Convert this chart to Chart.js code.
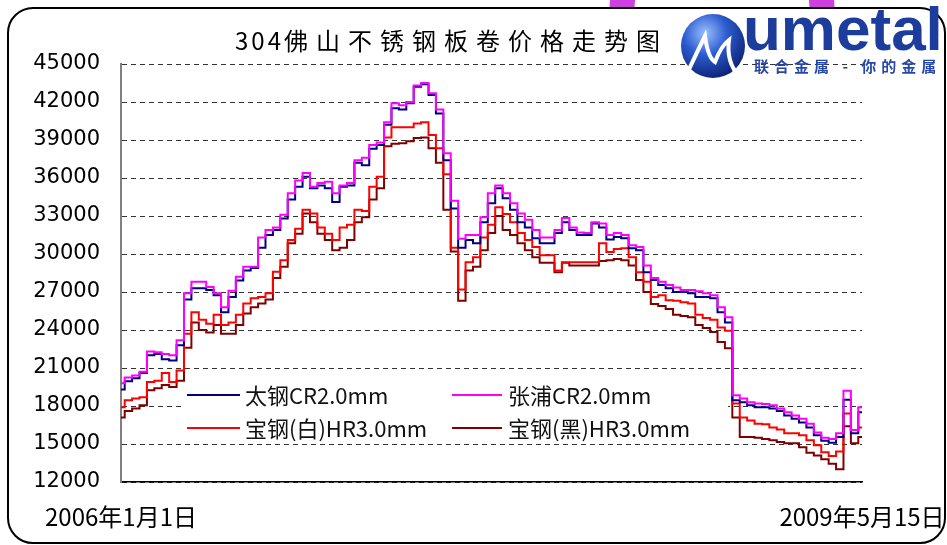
<!DOCTYPE html>
<html>
<head>
<meta charset="utf-8">
<script src="https://cdn.jsdelivr.net/npm/chart.js@4.4.1/dist/chart.umd.min.js"></script>
<style>
html,body{margin:0;padding:0;background:#fff;}
#wrap{position:relative;width:947px;height:545px;overflow:hidden;background:#fff;}
#ring{position:absolute;left:0;top:0;}
#frame{position:absolute;left:7px;top:7px;width:939px;height:537px;box-sizing:border-box;border:2px solid #000;border-radius:26px;background:#fff;}
#c{position:absolute;left:0;top:0;}
#title{position:absolute;left:235px;top:26px;font-family:'Noto Sans CJK SC';font-size:24px;line-height:28px;letter-spacing:8px;white-space:nowrap;color:#000;}
#title .num{letter-spacing:3px;}
#logo{position:absolute;left:0;top:0;width:947px;height:90px;pointer-events:none;}
#globe{position:absolute;left:679px;top:12px;}
#um{position:absolute;left:743px;top:-6px;font-family:'Liberation Sans',Arial,sans-serif;font-weight:bold;font-size:62px;line-height:70px;color:#1d3d9c;letter-spacing:0px;white-space:nowrap;}
#sub{position:absolute;left:754px;top:57px;font-family:'Noto Sans CJK SC';font-weight:bold;font-size:15px;line-height:18px;color:#2747a8;white-space:nowrap;letter-spacing:5px;}
#legend{position:absolute;left:185px;top:377px;width:543px;height:64px;background:#fff;}
#legend .sw{position:absolute;height:2px;}
#legend .tx{position:absolute;font-family:'Noto Sans CJK SC';font-size:22px;line-height:26px;color:#111;white-space:nowrap;}
</style>
</head>
<body>
<div id="wrap">
  <svg id="ring" width="947" height="60"><circle cx="722" cy="10" r="100" fill="none" stroke="#d040e0" stroke-width="25"/></svg>
  <div id="frame"></div>
  <canvas id="c" width="947" height="545" style="width:947px;height:545px;"></canvas>
  <div id="title"><span class="num">304</span>佛山不锈钢板卷价格走势图</div>
  <div id="logo">
    <svg id="globe" width="68" height="72">
      <defs>
        <radialGradient id="gg" cx="38%" cy="30%" r="75%">
          <stop offset="0" stop-color="#9cc0ff"/>
          <stop offset="0.45" stop-color="#2c5cd0"/>
          <stop offset="1" stop-color="#0b2070"/>
        </radialGradient>
      </defs>
      <circle cx="34" cy="34" r="32" fill="url(#gg)"/>
      <path d="M6 66 Q18 40 26 24 Q29 46 36 50 Q42 34 50 28 Q47 50 60 64" stroke="#fff" stroke-width="4" fill="none"/>
    </svg>
    <div id="um">umetal</div>
    <div id="sub">联合金属 - 你的金属</div>
  </div>
  <div id="legend"></div>
</div>
<script>
// ---- data ----
const tickLabels = ['2006年1月1日', '2009年5月15日'];
const seriesNames = ['太钢CR2.0mm', '张浦CR2.0mm', '宝钢(白)HR3.0mm', '宝钢(黑)HR3.0mm'];
const seriesColors = ['#000080', '#FF00FF', '#FF0000', '#800000'];
const yMin = 12000, yMax = 45000, yStep = 3000;

const taigang = [19300,19950,20200,20600,22000,22100,21700,21600,22800,26400,
27300,27300,27150,26750,25400,26600,27900,28700,28900,30500,
31500,31900,32800,34300,35300,36100,35200,35400,35200,34100,
35300,35400,37200,37000,38300,38600,40200,41500,41400,41900,
43200,43400,42550,41100,37400,33600,30500,31100,30850,32500,
34000,35200,34400,33500,32500,32100,31250,30850,30850,31650,
32500,31900,31500,31500,32400,32100,31150,31350,31250,30450,
30300,28550,27950,27550,27300,27000,27000,26900,26600,26600,
26500,25400,24600,18450,18300,18050,17900,17900,17800,17600,
17250,17000,16700,16300,15700,15250,15100,15550,18500,15850,17500];

const zhangpu = [19800,20250,20400,20700,22300,22250,22100,22000,23200,26900,
27800,27800,27400,26900,25800,27100,28200,29000,29000,31300,
31900,32100,33100,34800,35800,36400,35300,35600,35700,34800,
35400,35600,37400,37600,38600,38800,40400,41900,41750,42000,
43300,43500,42700,41400,37950,34200,31200,31500,31500,32900,
34800,35400,34800,34000,33200,32700,31900,31300,31300,31900,
32850,32100,31700,31650,32500,32400,31500,31650,31500,30700,
30550,29100,28100,27800,27550,27350,27150,27150,27050,26900,
26750,25800,25000,18850,18600,18300,18200,18150,18050,17800,
17500,17250,17000,16600,15900,15500,15400,15850,19200,16100,17900];

const baogangBai = [17900,18450,18600,18700,19900,20000,20600,19900,20800,23700,
25400,24800,24500,25200,24400,24600,25200,26100,26500,26600,
26900,28600,29500,31100,32000,33500,33200,32100,31600,31100,
32100,32300,33500,33400,35300,36100,39200,40000,40000,40000,
40300,40400,39400,38350,36300,30500,27200,29350,29750,31300,
32300,33700,33150,32500,31650,31100,30550,29900,29900,28700,
29350,29350,29350,29350,29350,30850,30150,30400,30450,29750,
28550,27800,26600,26750,26350,26300,26200,26100,25200,24950,
24800,24200,23950,18200,17100,16850,16600,16550,16300,16150,
15850,15850,15700,15300,14900,14350,14050,14400,17400,16100,16300];

const baogangHei = [17100,17600,17800,18050,19250,19400,19650,19500,20000,22600,
24600,24000,23800,24400,23700,23700,24400,25300,25800,26100,
26400,28100,29000,30850,31600,33200,32500,31600,31100,30300,
30500,31100,32500,32900,34300,35200,38500,38700,38750,38900,
39150,39200,38350,37200,33500,30200,26300,28700,29000,30300,
31650,33000,31900,31500,30850,30300,29750,29300,29300,28550,
29300,29100,29100,29100,29100,29450,29500,29600,29500,29100,
27950,27000,26050,25900,25650,25200,25100,25000,24400,24150,
23850,23050,22550,17100,15550,15550,15500,15400,15300,15150,
15050,15050,14750,14300,14100,13800,13450,13000,16400,15050,15550];

const categories = Array.from({length: zhangpu.length}, (_, i) => i);
const seriesValues = [taigang, zhangpu, baogangBai, baogangHei];
const drawOrder = [2, 1, 3, 4];

// ---- legend (HTML, inside plot area) ----
const leg = document.getElementById('legend');
seriesNames.forEach((name, i) => {
  const col = i % 2, row = Math.floor(i / 2);
  const sw = document.createElement('div');
  sw.className = 'sw';
  sw.style.background = seriesColors[i];
  sw.style.left = (col ? 267 : 2) + 'px';
  sw.style.width = (col ? 50 : 53) + 'px';
  sw.style.top = (row ? 50 : 17) + 'px';
  leg.appendChild(sw);
  const tx = document.createElement('div');
  tx.className = 'tx';
  tx.textContent = name;
  tx.style.left = (col ? 323 : 60) + 'px';
  tx.style.top = (row ? 37 : 4) + 'px';
  leg.appendChild(tx);
});

// ---- chart ----
new Chart(document.getElementById('c'), {
  type: 'line',
  data: {
    labels: categories,
    datasets: seriesNames.map((name, i) => ({
      label: name,
      data: seriesValues[i],
      borderColor: seriesColors[i],
      backgroundColor: seriesColors[i],
      borderWidth: 2,
      pointRadius: 0,
      stepped: 'middle',
      fill: false,
      order: drawOrder[i]
    }))
  },
  options: {
    responsive: false,
    animation: false,
    devicePixelRatio: 1,
    layout: { padding: { left: 0, top: 64, right: 85, bottom: 0 } },
    plugins: { legend: { display: false }, tooltip: { enabled: false }, title: { display: false } },
    scales: {
      x: {
        type: 'category',
        offset: false,
        grid: { display: false },
        border: { display: true, color: '#000', width: 1.5 },
        ticks: {
          autoSkip: false, maxRotation: 0, minRotation: 0, padding: 12, color: '#000',
          font: { family: "'Noto Sans CJK SC'", size: 24 },
          callback: (v, i) => tickLabels[i]
        },
        afterBuildTicks: s => { const t = s.ticks; s.ticks = [t[0], t[t.length - 1]]; },
        afterFit: s => { s.paddingLeft = 0; s.paddingRight = 0; s.height = 63; }
      },
      y: {
        min: yMin, max: yMax,
        ticks: { stepSize: yStep, padding: 21, color: '#000', font: { family: 'DejaVu Sans', size: 21 },
          callback: v => String(v) },
        grid: { color: '#333', lineWidth: 1, drawTicks: false },
        border: { display: true, color: '#808080', width: 2, dash: [5, 4] },
        afterFit: s => { s.width = 121; s.paddingTop = 0; s.paddingBottom = 0; }
      }
    }
  }
});
</script>
</body>
</html>
